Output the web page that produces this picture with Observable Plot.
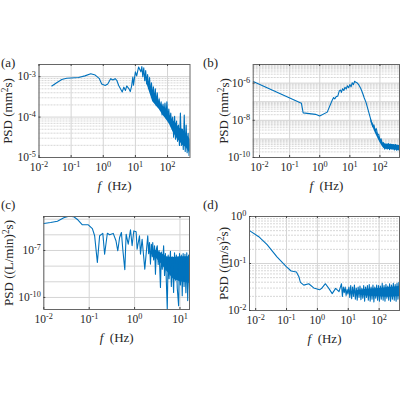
<!DOCTYPE html>
<html><head><meta charset="utf-8">
<script src="https://cdn.jsdelivr.net/npm/d3@7"></script>
<script src="https://cdn.jsdelivr.net/npm/@observablehq/plot@0.6"></script>
<style>
html,body{margin:0;padding:0;background:#fff;width:400px;height:400px;overflow:hidden}
#c{position:relative;width:400px;height:400px;font-family:"Liberation Serif","Times New Roman",serif;color:#262626}
#c svg{position:absolute;overflow:visible;background:transparent}
#c svg text{font-family:"Liberation Serif","Times New Roman",serif !important}
.tag{position:absolute;font-size:13px;line-height:13px}
</style></head><body><div id="c"></div>
<script>
const BLUE="#0072BD";
// all series hold log10(f) and log10(PSD)
const aF=[-1.6,-1.45,-1.29,-1.14,-0.77,-0.57,-0.39,-0.25,-0.12,-0.05,0.06,0.14,0.23,0.3,0.37,0.42,0.48,0.59,0.64,0.69,0.73,0.8,0.84,0.88,0.92,0.94,1.0,1.04,1.1,1.17,1.2,1.23,1.26,1.29,1.32,1.35,1.38,1.41,1.44,1.47,1.5,1.53,1.56,1.59,1.62,1.65,1.68,1.71,1.74,1.77,1.8,1.83,1.86,1.89,1.92,1.95,1.98,2.01,2.04,2.07,2.1,2.13,2.16,2.19,2.22,2.25,2.28,2.31,2.34,2.37,2.4,2.43,2.46,2.49,2.52,2.55,2.58,2.61,2.64,2.67,2.7];
const aP=[-3.23,-3.15,-3.07,-3.04,-3.02,-2.98,-2.93,-2.96,-3.05,-3.18,-3.22,-3.18,-3.05,-3.08,-3.05,-3.09,-3.22,-3.38,-3.26,-3.34,-3.23,-3.3,-3.37,-3.24,-3.01,-3.21,-2.88,-2.98,-2.76,-2.88,-2.75,-3.0,-2.78,-3.1,-2.85,-3.18,-2.95,-3.3,-3.02,-3.4,-3.15,-3.5,-3.25,-3.62,-3.3,-3.72,-3.4,-3.75,-3.55,-3.82,-3.62,-3.95,-3.68,-3.92,-3.65,-4.02,-3.62,-4.05,-3.8,-4.12,-3.9,-4.22,-4.0,-4.5,-3.98,-4.55,-4.1,-4.6,-4.2,-4.7,-3.9,-4.7,-4.3,-4.8,-3.95,-4.85,-4.2,-4.88,-4.4,-4.95,-4.55];
const aBandF=[1.33,1.44,1.54,1.645,1.75,1.85,1.95,2.06,2.16,2.27,2.37,2.48,2.58,2.7];
const aBandHi=[-2.95,-3.2,-3.35,-3.45,-3.65,-3.72,-3.8,-3.95,-4.08,-4.15,-4.28,-4.3,-4.42,-4.55];
const aBandLo=[-3.1,-3.38,-3.62,-3.72,-3.82,-3.95,-4.05,-4.18,-4.35,-4.5,-4.6,-4.7,-4.75,-4.9];

const bF=[-2.21,-0.61,-0.55,-0.14,0,0.25,0.41,0.46,0.5,0.55,0.6,0.65,0.69,0.72,0.76,0.8,0.84,0.88,0.92,0.96,1.0,1.04,1.08,1.12,1.16,1.2,1.25,1.3,1.36,1.42,1.48,1.54,1.6,1.66,1.72,1.76,1.8,1.84,1.88,1.92,1.96,2.0,2.04,2.08,2.12,2.16,2.2,2.24,2.28,2.32,2.36,2.4,2.44,2.48,2.52,2.56,2.6,2.65];
const bP=[-5.92,-7.08,-7.6,-7.68,-7.77,-7.56,-6.94,-6.78,-6.85,-6.72,-6.7,-6.42,-6.37,-6.5,-6.3,-6.4,-6.22,-6.32,-6.14,-6.25,-6.08,-6.2,-5.98,-6.08,-5.9,-5.96,-6.0,-6.1,-6.28,-6.52,-6.8,-7.05,-7.4,-7.75,-8.1,-8.35,-8.25,-8.55,-8.45,-8.75,-8.75,-9.05,-9.0,-9.35,-9.2,-9.55,-9.3,-9.55,-9.25,-9.58,-9.28,-9.55,-9.3,-9.6,-9.3,-9.62,-9.35,-9.65];
const bBandF=[1.7,1.85,2.0,2.12,2.2,2.4,2.65];
const bBandHi=[-7.9,-8.45,-8.95,-9.25,-9.28,-9.3,-9.36];
const bBandLo=[-8.1,-8.7,-9.2,-9.5,-9.55,-9.58,-9.64];

const cF=[-2,-1.85,-1.7,-1.56,-1.45,-1.34,-1.25,-1.15,-1.02,-0.93,-0.88,-0.82,-0.77,-0.7,-0.66,-0.6,-0.55,-0.47,-0.41,-0.37,-0.33,-0.29,-0.26,-0.215,-0.186,-0.14,-0.09,-0.054,-0.017,0.034,0.056,0.108,0.13,0.166,0.225,0.29,0.31,0.33,0.35,0.37,0.39,0.4,0.42,0.44,0.46,0.48,0.5,0.52,0.54,0.57,0.59,0.61,0.64,0.66,0.68,0.7,0.72,0.74,0.76,0.79,0.81,0.83,0.86,0.88,0.9,0.92,0.94,0.97,0.99,1.01,1.03,1.05,1.07,1.09,1.11,1.13,1.15,1.17,1.19,1.21];
const cP=[-5.28,-5.21,-5.13,-4.91,-4.81,-4.85,-5.04,-5.36,-5.36,-5.6,-6.06,-7.77,-6.06,-5.91,-7.24,-5.9,-6.0,-5.91,-6.38,-7.02,-6.17,-5.85,-6.92,-8.23,-5.96,-6.6,-5.68,-6.7,-5.75,-5.8,-6.92,-6.06,-7.23,-6.28,-8.19,-6.06,-7.2,-6.5,-7.87,-6.6,-7.4,-6.49,-7.6,-6.7,-8.51,-6.9,-6.7,-7.9,-7.0,-9.36,-7.1,-8.2,-6.7,-8.6,-7.2,-9.0,-10.75,-7.3,-8.8,-7.05,-9.3,-7.4,-9.68,-7.15,-8.9,-7.3,-9.4,-10.53,-7.2,-9.2,-7.3,-9.89,-7.2,-9.3,-7.25,-9.7,-7.15,-10.2,-7.3,-9.5];
const cBandF=[0.45,0.6,0.7,0.85,1.0,1.21];
const cBandHi=[-6.95,-7.2,-7.4,-7.45,-7.4,-7.4];
const cBandLo=[-7.4,-7.9,-8.3,-8.8,-9.0,-9.1];

const dF=[-2.2,-1.9,-1.63,-1.31,-1,-0.85,-0.68,-0.6,-0.55,-0.44,-0.28,-0.12,0.07,0.15,0.26,0.37,0.48,0.59,0.7,0.78,0.81,0.84,0.87,0.9,0.93,0.96,0.99,1.02,1.05,1.08,1.11,1.14,1.17,1.2,1.23,1.26,1.29,1.32,1.35,1.38,1.41,1.44,1.47,1.5,1.53,1.56,1.59,1.62,1.65,1.68,1.71,1.74,1.77,1.8,1.83,1.86,1.89,1.92,1.95,1.98,2.01,2.04,2.07,2.1,2.13,2.16,2.19,2.22,2.25,2.28,2.31,2.34,2.37,2.4,2.43,2.46,2.49,2.52,2.55,2.58,2.61,2.64,2.66];
const dP=[-0.3,-0.43,-0.6,-0.86,-1.07,-1.16,-1.18,-1.28,-1.4,-1.46,-1.43,-1.52,-1.56,-1.52,-1.43,-1.53,-1.64,-1.53,-1.6,-1.43,-1.7,-1.5,-1.62,-1.5,-1.68,-1.55,-1.65,-1.5,-1.72,-1.47,-1.75,-1.5,-1.7,-1.46,-1.76,-1.52,-1.78,-1.5,-1.72,-1.48,-1.77,-1.53,-1.74,-1.47,-1.8,-1.5,-1.72,-1.47,-1.78,-1.45,-1.8,-1.5,-1.76,-1.46,-1.82,-1.5,-1.74,-1.46,-1.78,-1.47,-1.8,-1.48,-1.76,-1.42,-1.78,-1.47,-1.8,-1.44,-1.74,-1.48,-1.78,-1.43,-1.8,-1.46,-1.76,-1.42,-1.78,-1.45,-1.8,-1.42,-1.76,-1.4,-1.72];
const dBandF=[1.25,1.6,2.0,2.3,2.66];
const dBandHi=[-1.58,-1.55,-1.53,-1.51,-1.49];
const dBandLo=[-1.64,-1.69,-1.71,-1.72,-1.7];

const xt=(a,b)=>d3.range(a,b+1).map(e=>10**e);
const fmt=d=>`10^{${Math.round(Math.log10(d))}}`;
function rich(svg){
  d3.select(svg).selectAll("text").each(function(){
    const t=this.textContent;
    if(!/\^\{|\*/.test(t)) return;
    const sel=d3.select(this); sel.text(null);
    let back=false;
    t.split(/(\^\{[^}]*\}|\*[^*]*\*)/).filter(Boolean).forEach(p=>{
      if(p.startsWith("^{")){
        sel.append("tspan").attr("font-size","0.72em").attr("dy","-0.45em").text(p.slice(2,-1));
        back=true;
      } else {
        const ts=sel.append("tspan");
        if(p.startsWith("*")) ts.attr("font-style","italic").text(p.slice(1,-1));
        else ts.text(p);
        if(back){ts.attr("dy","0.33em");back=false;}
      }
    });
  });
}
function panel(o){
  const rows=o.f.map((f,i)=>({f:10**f,p:10**o.p[i]}));
  const band=o.bf.map((f,i)=>({f:10**f,hi:10**o.hi[i],lo:10**o.lo[i]}));
  const minor=[];
  if(o.minor) for(let e=o.ye[0];e<o.ye[1];e++) for(let k=2;k<10;k++) minor.push(k*10**e);
  const plot=Plot.plot({
    width:200,height:o.h,marginLeft:o.ml,marginRight:o.mr,marginTop:o.mt,marginBottom:o.h-o.mt-o.ph,
    style:{fontFamily:"'Liberation Serif',serif",fontSize:"11px",color:"#262626",background:"transparent"},
    x:{type:"log",domain:o.xd},
    y:{type:"log",domain:o.yd},
    marks:[
      Plot.ruleY(minor,{stroke:"#c6c6c6",strokeWidth:0.7,strokeDasharray:"2 1"}),
      Plot.ruleY(o.yg,{stroke:"#d4d4d4",strokeWidth:1}),
      Plot.ruleX(o.xg,{stroke:"#d4d4d4",strokeWidth:1}),
      Plot.areaY(band,{x:"f",y1:"lo",y2:"hi",fill:BLUE,clip:true}),
      Plot.line(rows,{x:"f",y:"p",stroke:BLUE,strokeWidth:o.sw||1.1,clip:true}),
      Plot.frame({stroke:"#666666",strokeWidth:1}),
      Plot.axisX({ticks:o.xl,tickFormat:fmt,tickSize:-2,tickPadding:7,stroke:"#444",fontSize:11.5,label:"*f*\u00a0\u00a0(Hz)",labelAnchor:"center",labelArrow:"none",labelOffset:32}),
      Plot.ruleX(o.xl,{stroke:"#444",insetBottom:o.ph-2}),
      Plot.axisY({ticks:o.yl,tickFormat:fmt,tickSize:-2,tickPadding:5,stroke:"#444",fontSize:11.5,label:o.yLabel,labelAnchor:"center",labelArrow:"none",labelOffset:o.lo2}),
    ]
  });
  plot.style.left=o.left+"px";plot.style.top=o.top+"px";
  d3.select(plot).selectAll('[aria-label="x-axis label"] text, [aria-label="y-axis label"] text').style("font-size","13px");
  rich(plot);
  document.getElementById("c").appendChild(plot);
}
const tags=[["(a)",1,56],["(b)",203,56],["(c)",1,198],["(d)",203,198]];
tags.forEach(([t,x,y])=>{const d=document.createElement("div");d.className="tag";d.textContent=t;d.style.left=x+"px";d.style.top=y+"px";document.getElementById("c").appendChild(d);});

panel({left:0,top:50,h:145,ml:38.5,mr:10.5,mt:14,ph:93,xd:[0.01,500],yd:[1e-5,2e-3],ye:[-5,-3],minor:true,
  xl:xt(-2,2),xg:xt(-2,2),yl:xt(-5,-3),yg:xt(-5,-3),yLabel:"PSD (mm^{2}s)",lo2:36,f:aF,p:aP,bf:aBandF,hi:aBandHi,lo:aBandLo});
panel({left:200,top:50,h:145,ml:52.7,mr:1,mt:14,ph:93,xd:[10**-2.21,10**2.65],yd:[1e-10,1e-5],ye:[-10,-5],minor:true,
  xl:xt(-2,2),xg:xt(-2,2),yl:[1e-10,1e-8,1e-6],yg:xt(-10,-5),yLabel:"PSD (mm^{2}s)",lo2:34,f:bF,p:bP,bf:bBandF,hi:bBandHi,lo:bBandLo});
panel({left:0,top:195,h:145,ml:43.3,mr:11,mt:21,ph:93,xd:[0.01,10**1.21],yd:[10**-10.77,10**-4.83],ye:[-10,-5],minor:false,
  xl:xt(-2,1),xg:xt(-2,1),yl:[1e-10,1e-7],yg:xt(-10,-5),yLabel:"PSD ((L/min)^{2}s)",lo2:40,f:cF,p:cP,bf:cBandF,hi:cBandHi,lo:cBandLo});
panel({left:200,top:195,h:145,ml:49,mr:1,mt:21,ph:94,xd:[10**-2.2,10**2.66],yd:[0.01,1],ye:[-2,0],minor:true,
  xl:xt(-2,2),xg:xt(-2,2),yl:xt(-2,0),yg:xt(-2,0),yLabel:"PSD ((m/s)^{2}s)",lo2:31,f:dF,p:dP,bf:dBandF,hi:dBandHi,lo:dBandLo});
</script></body></html>
